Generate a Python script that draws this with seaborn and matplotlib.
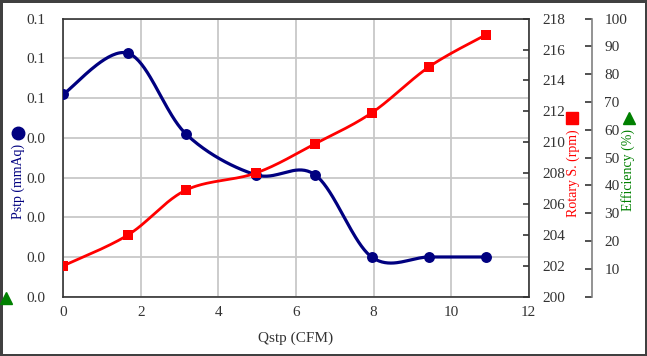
import numpy as np
import pandas as pd
import matplotlib
matplotlib.use("Agg")
import matplotlib.pyplot as plt
from matplotlib.lines import Line2D
import seaborn as sns

# ---- data ----
qstp = [0.0, 1.67, 3.16, 4.96, 6.49, 7.95, 9.44, 10.89]
pstp = [0.0510, 0.0613, 0.0410, 0.0307, 0.0307, 0.0100, 0.0100, 0.0100]
rotary = [202.0, 204.0, 206.9, 208.0, 209.9, 211.9, 214.9, 216.95]

x_ticks = [0, 2, 4, 6, 8, 10, 12]
p_ticks = [0.00, 0.01, 0.02, 0.03, 0.04, 0.05, 0.06, 0.07]
p_labels = ["0.0", "0.0", "0.0", "0.0", "0.0", "0.1", "0.1", "0.1"]
r_ticks = [200, 202, 204, 206, 208, 210, 212, 214, 216, 218]
e_ticks = [0, 10, 20, 30, 40, 50, 60, 70, 80, 90, 100]
e_labels = ["", "10", "20", "30", "40", "50", "60", "70", "80", "90", "100"]

NAVY = "#000080"
RED = "#ff0000"
GREEN = "#008000"
TXT = "#333333"


def smooth(xs, ys, n=40):
    """Excel-like smoothed line (Catmull-Rom as cubic Bezier)."""
    P = np.column_stack([xs, ys]).astype(float)
    out = []
    for i in range(len(P) - 1):
        p0 = P[i - 1] if i > 0 else P[i]
        p1 = P[i]
        p2 = P[i + 1]
        p3 = P[i + 2] if i + 2 < len(P) else P[i + 1]
        c1 = p1 + (p2 - p0) / 6.0
        c2 = p2 - (p3 - p1) / 6.0
        t = np.linspace(0, 1, n)[:, None]
        seg = ((1 - t) ** 3) * p1 + 3 * ((1 - t) ** 2) * t * c1 + 3 * (1 - t) * t ** 2 * c2 + t ** 3 * p2
        out.append(seg if i == 0 else seg[1:])
    s = np.vstack(out)
    return s[:, 0], s[:, 1]


sns.set_theme(style="white")
plt.rcParams["font.family"] = ["Liberation Serif", "DejaVu Sans"]
plt.rcParams["font.size"] = 10

fig = plt.figure(figsize=(6.47, 3.56), dpi=100, edgecolor="#404040", linewidth=2.5)
ax = fig.add_axes([63.3 / 647, 1 - 296.7 / 356, (528.7 - 63.3) / 647, (296.7 - 18.7) / 356])
ax2 = ax.twinx()
ax3 = ax.twinx()

df = pd.DataFrame({"Qstp": qstp, "Pstp": pstp, "Rotary": rotary})

# Pstp (left axis)
sx, sy = smooth(qstp, pstp)
sns.lineplot(x=sx, y=sy, ax=ax, color=NAVY, lw=2.3, sort=False, estimator=None)
sns.scatterplot(data=df, x="Qstp", y="Pstp", ax=ax, color=NAVY, s=62, marker="o",
                edgecolor=NAVY, linewidth=0, zorder=5)

# Rotary speed (right axis)
rx, ry = smooth(qstp, rotary)
sns.lineplot(x=rx, y=ry, ax=ax2, color=RED, lw=2.0, sort=False, estimator=None)
sns.scatterplot(data=df, x="Qstp", y="Rotary", ax=ax2, color=RED, s=62, marker="s",
                edgecolor=RED, linewidth=0, zorder=5)

# axis limits / ticks
ax.set_xlim(0, 12)
ax.set_ylim(0, 0.07)
ax.set_xticks(x_ticks)
ax.set_xticklabels([str(v) for v in x_ticks])
ax.set_yticks(p_ticks)
ax.set_yticklabels(p_labels)
ax.grid(True, color="#c8c8c8", lw=1.3)
ax.set_axisbelow(True)
ax.tick_params(axis="both", length=0, labelsize=11, colors=TXT)
ax.tick_params(axis="y", pad=13)
ax.tick_params(axis="x", pad=7)
ax.set_xlabel("Qstp (CFM)", fontsize=11, color=TXT, labelpad=9)
ax.set_ylabel("")
for s in ax.spines.values():
    s.set_color("#333333")
    s.set_linewidth(1.2)

ax2.set_ylim(200, 218)
ax2.set_yticks(r_ticks)
ax2.set_yticklabels([str(v) for v in r_ticks])
ax2.tick_params(axis="y", direction="in", length=4, width=1.2, colors=TXT,
                labelsize=11, pad=10)
ax2.set_ylabel("")
ax2.grid(False)
for s in ax2.spines.values():
    s.set_visible(False)

ax3.set_ylim(0, 100)
ax3.set_yticks(e_ticks)
ax3.set_yticklabels(e_labels)
ax3.spines["right"].set_position(("axes", (592 - 63.3) / (528.7 - 63.3)))
for k, s in ax3.spines.items():
    s.set_visible(k == "right")
ax3.spines["right"].set_color("#808080")
ax3.spines["right"].set_linewidth(1.2)
ax3.tick_params(axis="y", direction="in", length=5, width=1.2, colors=TXT,
                labelsize=11, pad=9)
ax3.grid(False)

# axis titles with marker symbols
fig.text(18 / 647, 1 - 181 / 356, "Pstp (mmAq)", rotation=90, color=NAVY,
         fontsize=10, ha="center", va="center")
fig.text(573 / 647, 1 - 173 / 356, "Rotary S. (rpm)", rotation=90, color=RED,
         fontsize=10, ha="center", va="center")
fig.text(628 / 647, 1 - 170 / 356, "Efficiency (%)", rotation=90, color=GREEN,
         fontsize=10, ha="center", va="center")


def key(xp, yp, marker, color, size):
    fig.add_artist(Line2D([xp / 647], [1 - yp / 356], transform=fig.transFigure,
                          marker=marker, color=color, markersize=size, linestyle="none"))


key(18, 133, "o", NAVY, 9)
key(572, 118.5, "s", RED, 8.5)
key(629, 117.5, "^", GREEN, 9)
key(6, 298, "^", GREEN, 8.5)

fig.savefig("out.png", dpi=100)
